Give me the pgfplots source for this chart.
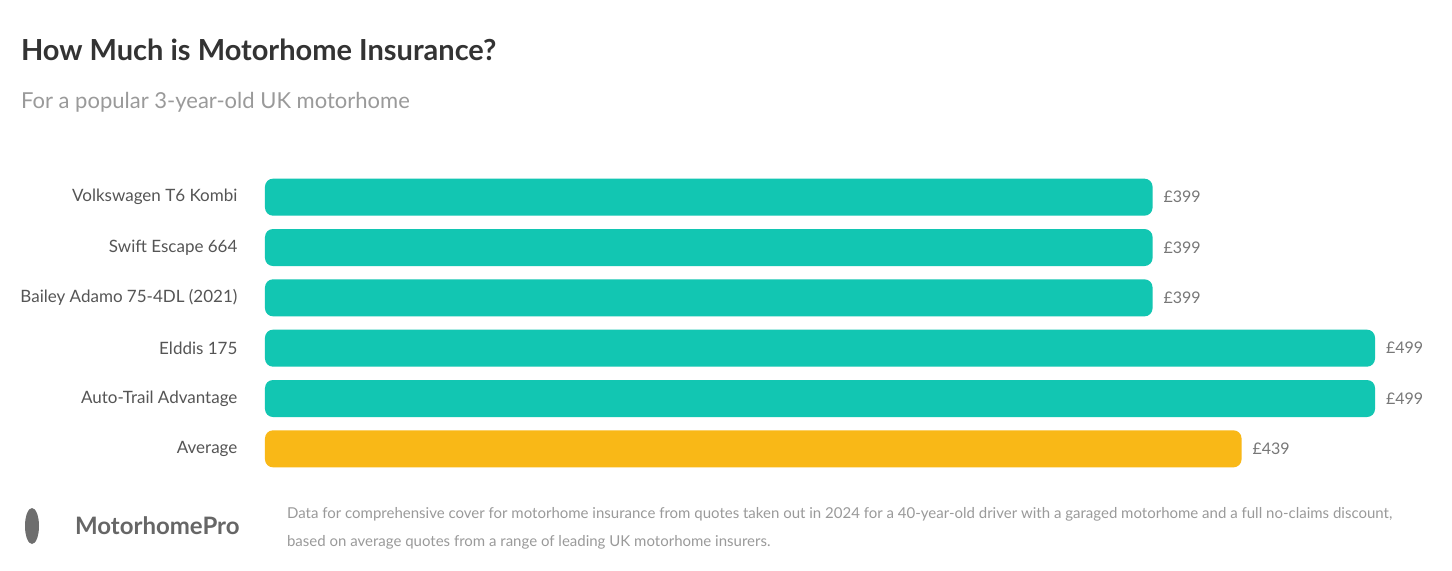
\documentclass[border=0pt]{standalone}
\usepackage{pgfplots}
\pgfplotsset{compat=1.18}
\usepackage{fontspec}
\setmainfont{Lato}
\definecolor{teal1}{HTML}{12C6B2}
\definecolor{gold1}{HTML}{F9B817}
\definecolor{titlegray}{HTML}{333333}
\definecolor{subgray}{HTML}{9A9A9A}
\definecolor{labgray}{HTML}{555555}
\begin{document}
\begin{tikzpicture}[x=1pt,y=1pt]
\path[fill=white] (0,0) rectangle (726,285);
\node[anchor=west,font=\fontsize{14.5}{16}\selectfont\bfseries,text=titlegray] at (7,260) {How Much is Motorhome Insurance?};
\node[anchor=west,font=\fontsize{11}{13}\selectfont,text=subgray] at (7,234) {For a popular 3-year-old UK motorhome};
\begin{axis}[
  at={(132.5pt,48pt)}, anchor=south west,
  scale only axis, width=555pt, height=151pt,
  xbar, bar width=18.5pt, bar shift=0pt,
  xmin=0, xmax=499, ymin=-0.5, ymax=5.5, y dir=reverse,
  axis line style={draw=none}, tick style={draw=none},
  xtick=\empty, ytick={0,1,2,3,4,5},
  yticklabels={Volkswagen T6 Kombi, Swift Escape 664, Bailey Adamo 75-4DL (2021), Elddis 175, Auto-Trail Advantage, Average},
  yticklabel style={font=\fontsize{8.5}{10}\selectfont, text=labgray, xshift=-6pt},
  clip=false,
  point meta=explicit symbolic,
  nodes near coords,
  nodes near coords style={font=\fontsize{8}{10}\selectfont, text=labgray!80, anchor=west, xshift=2pt},
]
\addplot[fill=teal1, draw=none, rounded corners=4pt] coordinates {
(399,0) [£399]
(399,1) [£399]
(399,2) [£399]
(499,3) [£499]
(499,4) [£499]
};
\addplot[fill=gold1, draw=none, rounded corners=4pt] coordinates {
(439,5) [£439]
};
\end{axis}
\fill[labgray!85] (16,22) ellipse (3.5pt and 9pt);
\node[anchor=west,font=\fontsize{12}{14}\selectfont\bfseries,text=labgray!90] at (34,22) {MotorhomePro};
\node[anchor=north west,font=\fontsize{7.5}{14}\selectfont,text=subgray,align=left] at (140,35) {Data for comprehensive cover for motorhome insurance from quotes taken out in 2024 for a 40-year-old driver with a garaged motorhome and a full no-claims discount,\\ based on average quotes from a range of leading UK motorhome insurers.};
\end{tikzpicture}
\end{document}
